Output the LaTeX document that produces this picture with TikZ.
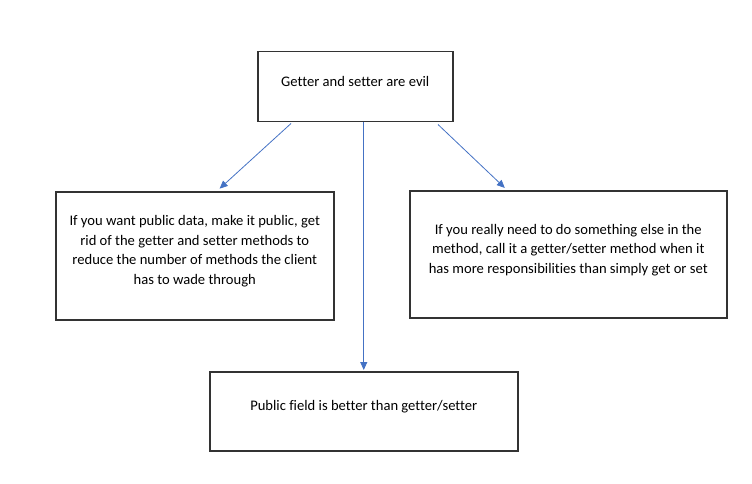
\documentclass[tikz,border=0pt]{standalone}
\usepackage{fontspec}
\setmainfont[Ligatures={NoCommon}]{Carlito}
\usetikzlibrary{arrows.meta,calc}
\definecolor{boxline}{HTML}{333333}
\definecolor{arrowblue}{HTML}{4472C4}
\tikzset{
  box/.style={draw=boxline, line width=1.5pt, rectangle, inner sep=0pt, anchor=north west},
  boxtext/.style={align=center, font=\fontsize{14.6pt}{19.5pt}\selectfont, inner sep=0pt},
  conn/.style={draw=arrowblue, line width=0.8pt, -{Triangle[length=8pt,width=7pt]}}
}
\begin{document}
\begin{tikzpicture}[x=1pt,y=-1pt]
\useasboundingbox (0,0) rectangle (752,484);
\node[box, minimum width=195pt, minimum height=70pt] (top) at (257,51) {};
\node[box, minimum width=278pt, minimum height=128pt] (left) at (55,191) {};
\node[box, minimum width=317pt, minimum height=127pt] (right) at (409,190) {};
\node[box, minimum width=308pt, minimum height=79pt] (bottom) at (209,371) {};
\node[boxtext] (toptext) at ($(top.center)+(0,-5)$) {Getter and setter are evil};
\node[boxtext] (lefttext) at ($(left.center)+(0,-4.5)$) {If you want public data, make it public, get\\rid of the getter and setter methods to\\reduce the number of methods the client\\has to wade through};
\node[boxtext] (righttext) at ($(right.center)+(0,-4.5)$) {If you really need to do something else in the\\method, call it a getter/setter method when it\\has more responsibilities than simply get or set};
\node[boxtext] (bottomtext) at ($(bottom.center)+(0,-5)$) {Public field is better than getter/setter};
\draw[conn, shorten >=3.5pt] ($(top.south west)+(34,1)$) -- ($(left.north west)+(162,0)$);
\draw[conn, shorten >=1pt] (top.south -| bottom.north) -- (bottom.north);
\draw[conn, shorten >=3pt] ($(top.south west)+(181,2)$) -- ($(right.north west)+(98,0)$);
\end{tikzpicture}
\end{document}
